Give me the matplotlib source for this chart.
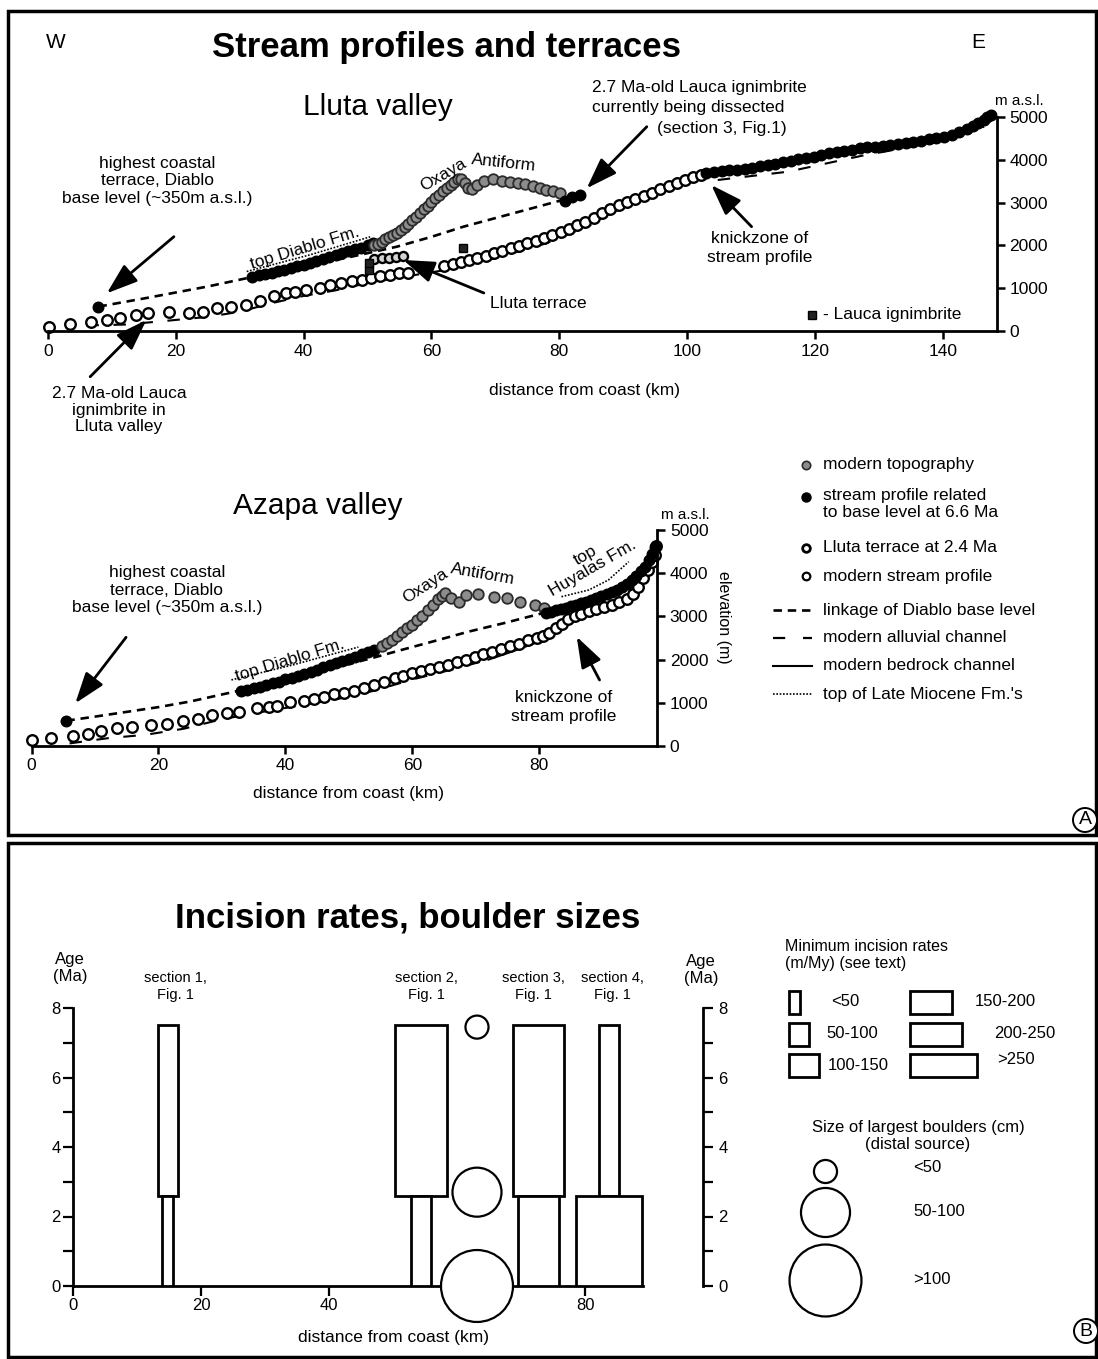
import matplotlib
matplotlib.use("Agg")
import matplotlib.pyplot as plt
from matplotlib.patches import Rectangle
from matplotlib.ticker import MultipleLocator

plt.rcParams["font.family"] = ["Liberation Sans", "DejaVu Sans"]

W, H = 1098, 1359

# ---------------- Lluta valley: distance from coast (km), elevation (m a.s.l.) ----------------
lluta_modern_km = [0.2, 3.4, 6.7, 9.2, 11.2, 13.7, 15.7, 19.0, 22.0, 24.2,
                   26.4, 28.6, 31.0, 33.1, 35.4, 37.3, 38.7, 40.3, 42.5, 44.2,
                   45.8, 47.5, 49.1, 50.5, 51.9, 53.5, 54.9, 56.3,
                   62.0, 63.3, 64.6, 65.9, 67.2, 68.5, 69.8, 71.1, 72.4, 73.7,
                   75.0, 76.3, 77.6, 78.9, 80.2, 81.5, 82.8, 84.1, 85.4, 86.7,
                   88.0, 89.3, 90.6, 91.9, 93.2, 94.5, 95.8, 97.1, 98.4, 99.7,
                   101.0, 102.2]
lluta_modern_m = [100, 160, 220, 255, 310, 375, 415, 450, 420, 450,
                  530, 550, 607, 710, 825, 880, 900, 960, 1010, 1075,
                  1110, 1175, 1190, 1250, 1285, 1310, 1350, 1360,
                  1510, 1555, 1605, 1655, 1705, 1755, 1815, 1875, 1935, 1995,
                  2055, 2110, 2170, 2235, 2310, 2390, 2470, 2550, 2650, 2750,
                  2850, 2935, 3015, 3095, 3165, 3235, 3320, 3390, 3460, 3525,
                  3590, 3650]

# stream profile related to base level at 6.6 Ma
lluta_old_km = [32.0, 33.0, 34.0, 35.0, 36.0, 37.0, 38.0, 39.0, 40.0, 41.0,
                42.0, 43.0, 44.0, 45.0, 46.0, 47.0, 48.0, 49.0, 50.0, 50.9]
lluta_old_m = [1270, 1300, 1330, 1365, 1400, 1435, 1470, 1510, 1550, 1590,
               1635, 1680, 1725, 1770, 1815, 1860, 1905, 1950, 2000, 2050]
lluta_dissected_km = [80.9, 82.0, 83.3]
lluta_dissected_m = [3030, 3130, 3180]
lluta_upper_km = [103.0, 104.2, 105.4, 106.6, 107.8, 109.0, 110.2, 111.4, 112.6, 113.8,
                  115.0, 116.2, 117.4, 118.6, 119.8, 121.0, 122.2, 123.4, 124.6, 125.8,
                  127.0, 128.2, 129.4, 130.6, 131.8, 133.0, 134.2, 135.4, 136.6, 137.8,
                  139.0, 140.2, 141.4, 142.6, 143.8, 144.8, 145.6, 146.4, 147.0, 147.5]
lluta_upper_m = [3690, 3710, 3730, 3750, 3770, 3790, 3820, 3850, 3880, 3910,
                 3950, 3980, 4010, 4040, 4070, 4110, 4150, 4180, 4210, 4240,
                 4270, 4290, 4310, 4330, 4355, 4380, 4400, 4420, 4450, 4475,
                 4500, 4540, 4590, 4650, 4730, 4800, 4870, 4940, 5000, 5050]

# modern topography across the Oxaya Antiform
lluta_topo_km = [51.0, 51.6, 52.2, 52.8, 53.4, 54.0, 54.6, 55.2, 55.8, 56.4,
                 57.0, 57.6, 58.2, 58.8, 59.4, 60.0, 60.6, 61.2, 61.8, 62.4,
                 63.0, 63.6, 64.2, 64.6, 65.2, 65.8, 66.4, 67.2, 68.2, 69.7,
                 71.0, 72.3, 73.5, 74.6, 75.9, 77.0, 78.0, 79.0, 80.1]
lluta_topo_m = [2000, 2040, 2090, 2140, 2190, 2240, 2300, 2370, 2440, 2510,
                2590, 2670, 2750, 2840, 2930, 3010, 3100, 3180, 3260, 3340,
                3410, 3480, 3540, 3560, 3450, 3340, 3320, 3420, 3500, 3540,
                3500, 3470, 3460, 3440, 3380, 3330, 3300, 3260, 3220]

lluta_terrace_km = [51.0, 52.2, 53.4, 54.5, 55.6]
lluta_terrace_m = [1690, 1700, 1715, 1730, 1750]
lluta_lauca_km = [50.2, 50.2, 65.0]
lluta_lauca_m = [1420, 1580, 1950]

lluta_base_km = [7.9]
lluta_base_m = [570]
lluta_link_km = [7.9, 15.0, 20.0, 25.0, 31.6, 40.0, 47.0, 54.6, 60.0, 65.0, 72.8, 80.5]
lluta_link_m = [570, 760, 900, 1040, 1250, 1500, 1720, 1970, 2200, 2437, 2750, 3060]
lluta_diablo_top_km = [31.1, 41.0, 50.4]
lluta_diablo_top_m = [1390, 1780, 2200]

lluta_alluv_low_km = [6.0, 12.0, 18.0, 25.0, 30.0, 35.0, 40.0, 45.0, 50.0, 55.0, 62.0, 70.0, 78.0, 85.0]
lluta_alluv_low_m = [130, 150, 230, 330, 450, 650, 820, 950, 1120, 1250, 1420, 1700, 2050, 2480]
lluta_bedrock_km = [85.0, 90.0, 95.0, 100.0, 103.0]
lluta_bedrock_m = [2530, 2880, 3200, 3470, 3600]
lluta_alluv_up_km = [104.8, 115.8, 127.9, 138.8, 146.5]
lluta_alluv_up_m = [3528, 3722, 4112, 4400, 4773]

# ---------------- Azapa valley ----------------
azapa_modern_km = [0.0, 3.1, 6.5, 8.9, 11.0, 13.4, 15.8, 18.9, 21.3, 23.9,
                   26.3, 28.4, 30.8, 32.7, 35.6, 37.4, 38.7, 40.8, 42.9, 44.5,
                   46.1, 47.7, 49.3, 50.8, 52.4, 54.0, 55.6, 57.2, 58.5, 60.0,
                   61.4, 62.8, 64.2, 65.6, 67.0, 68.4, 69.8, 71.2, 72.6, 74.0,
                   75.4, 76.8, 78.2, 79.6, 80.6, 81.6, 82.6, 83.6, 84.6, 85.6,
                   86.6, 87.8, 89.0, 90.2, 91.4, 92.6, 93.8, 94.8, 95.6, 96.4,
                   97.1, 97.7, 98.2, 98.4]
azapa_modern_m = [150, 180, 230, 280, 350, 410, 430, 490, 500, 585,
                  620, 720, 760, 795, 870, 895, 925, 1025, 1040, 1095,
                  1130, 1200, 1230, 1280, 1340, 1410, 1480, 1565, 1620, 1690,
                  1740, 1780, 1830, 1880, 1940, 2000, 2060, 2120, 2180, 2250,
                  2310, 2370, 2450, 2490, 2540, 2620, 2720, 2830, 2930, 3000,
                  3060, 3120, 3170, 3220, 3270, 3330, 3400, 3520, 3680, 3880,
                  4080, 4250, 4420, 4620]

azapa_old_km = [33.0, 34.0, 35.0, 36.0, 37.0, 38.0, 39.0, 40.0, 41.0, 42.0, 43.0,
                44.0, 45.0, 46.0, 47.0, 48.0, 49.0, 50.0, 51.0, 52.0, 53.0, 54.0]
azapa_old_m = [1265, 1300, 1335, 1375, 1410, 1450, 1490, 1540, 1585, 1630, 1675,
               1720, 1770, 1820, 1870, 1920, 1970, 2020, 2070, 2120, 2180, 2230]
azapa_upper_km = [81.0, 81.8, 82.6, 83.4, 84.2, 85.0, 85.8, 86.6, 87.4, 88.2, 89.0, 89.8,
                  90.6, 91.4, 92.2, 93.0, 93.8, 94.6, 95.3, 96.0, 96.7, 97.3, 97.8, 98.3]
azapa_upper_m = [3070, 3110, 3140, 3170, 3200, 3230, 3265, 3300, 3340, 3380, 3425, 3470,
                 3510, 3560, 3620, 3680, 3750, 3840, 3930, 4040, 4150, 4300, 4450, 4610]
azapa_topo_km = [55.2, 56.0, 56.8, 57.6, 58.4, 59.2, 60.0, 60.8, 61.6, 62.4, 63.2, 64.0,
                 64.6, 65.2, 66.1, 67.4, 68.5, 70.4, 72.8, 74.9, 77.0, 79.4, 80.7]
azapa_topo_m = [2320, 2390, 2460, 2540, 2630, 2720, 2810, 2910, 3020, 3140, 3260, 3400,
                3480, 3540, 3415, 3340, 3495, 3530, 3455, 3415, 3340, 3260, 3185]

azapa_base_km = [5.5]
azapa_base_m = [585]
azapa_link_km = [5.5, 10.0, 15.0, 20.0, 25.0, 32.7, 40.0, 47.0, 54.0, 58.2, 63.5, 68.8, 74.6, 80.4]
azapa_link_m = [585, 680, 790, 900, 1030, 1280, 1520, 1780, 2050, 2220, 2430, 2645, 2850, 3070]
azapa_diablo_top_km = [31.5, 41.0, 51.5]
azapa_diablo_top_m = [1530, 1870, 2290]
azapa_huaylas_top_km = [83.5, 87.8, 90.9, 94.1]
azapa_huaylas_top_m = [3456, 3611, 3843, 4266]

azapa_alluv_low_km = [6.0, 12.0, 18.0, 24.0, 30.0, 36.0, 42.0, 48.0, 54.0, 60.0, 66.0, 72.0]
azapa_alluv_low_m = [60, 180, 260, 400, 620, 780, 930, 1080, 1280, 1540, 1760, 2000]
azapa_bedrock_km = [72.0, 76.0, 80.0, 83.5]
azapa_bedrock_m = [2000, 2200, 2420, 2760]
azapa_alluv_up_km = [84.0, 88.0, 92.0, 95.0, 97.0]
azapa_alluv_up_m = [2850, 3060, 3260, 3500, 4000]

# ---------------- Incision rates and boulder sizes ----------------
rate_classes = ["<50", "50-100", "100-150", "150-200", "200-250", ">250"]
section_labels = ["section 1,\nFig. 1", "section 2,\nFig. 1", "section 3,\nFig. 1", "section 4,\nFig. 1"]
section_km = [14.8, 54.4, 72.7, 83.7]
rate_before_lauca = ["50-100", "200-250", "200-250", "50-100"]
rate_after_lauca = ["<50", "50-100", "150-200", ">250"]
age_oldest = 7.5
age_lauca = 2.6
boulder_classes = ["<50", "50-100", ">100"]
boulder_km = [63.1, 63.1, 63.1]
boulder_age = [7.45, 2.7, 0.0]
boulder_size = ["<50", "50-100", ">100"]

# box width (km) for each rate class and marker diameter (pt) for each boulder class
rate_width = dict(zip(rate_classes, [1.7, 3.1, 4.7, 6.5, 8.1, 10.4]))
boulder_diam = dict(zip(boulder_classes, [16.6, 35.3, 51.8]))

OPEN = dict(marker="o", ls="none", ms=7.6, mfc="white", mec="black", mew=1.7, clip_on=False)
BLACK = dict(marker="o", ls="none", ms=7.6, mfc="black", mec="black", mew=1.0, clip_on=False)
GREY = dict(marker="o", ls="none", ms=7.6, mfc="#8c8c8c", mec="#2b2b2b", mew=1.3, clip_on=False)
TERRACE = dict(marker="o", ls="none", ms=6.5, mfc="#d4d4d4", mec="black", mew=1.7, clip_on=False)
LINK = dict(color="black", lw=1.9, ls=(0, (3.2, 2.2)))
ALLUV = dict(color="black", lw=1.5, ls=(0, (6, 7)))
BED = dict(color="black", lw=1.5, ls="-")
TOPFM = dict(color="black", lw=1.2, ls=(0, (1, 1)))
FS = 12.5


fig = plt.figure(figsize=(W / 100, H / 100), dpi=100)

# overlay in pixel units: frames, titles, keys
ov = fig.add_axes([0, 0, 1, 1])
ov.set_xlim(0, W)
ov.set_ylim(H, 0)
ov.axis("off")


def axes_px(left, top, right, bottom):
    ax = fig.add_axes([left / W, 1 - bottom / H, (right - left) / W, (bottom - top) / H])
    ax.patch.set_visible(False)
    return ax


def arrow(ax, tail, head):
    ax.annotate("", xy=head, xytext=tail, annotation_clip=False,
                arrowprops=dict(arrowstyle="-|>,head_length=0.95,head_width=0.33",
                                lw=2, color="black", mutation_scale=20,
                                shrinkA=0, shrinkB=0))


def profile_axes(ax, xmax, xticks):
    ax.set_xlim(0, xmax)
    ax.set_ylim(0, 5000)
    ax.spines["left"].set_visible(False)
    ax.spines["top"].set_visible(False)
    ax.spines["bottom"].set_linewidth(2)
    ax.spines["right"].set_linewidth(2)
    ax.yaxis.tick_right()
    ax.set_yticks(range(0, 5001, 1000))
    ax.set_xticks(xticks)
    ax.tick_params(direction="out", length=6, width=1.8, labelsize=12.5, pad=3)


# panel frames
ov.add_patch(Rectangle((8, 11), 1088, 824, fill=False, lw=2.5, ec="black"))
ov.add_patch(Rectangle((8, 843), 1088, 514, fill=False, lw=2.5, ec="black"))

ov.text(56, 42, "W", fontsize=15, ha="center", va="center")
ov.text(978, 42, "E", fontsize=15, ha="center", va="center")
ov.text(446, 48, "Stream profiles and terraces", fontsize=25, fontweight="bold",
        ha="center", va="center")
ov.text(408, 918, "Incision rates, boulder sizes", fontsize=25, fontweight="bold",
        ha="center", va="center")
for lx, ly, letter in [(1085, 820, "A"), (1086, 1331, "B")]:
    ov.text(lx, ly, letter, fontsize=14, ha="center", va="center",
            bbox=dict(boxstyle="circle,pad=0.18", fc="white", ec="black", lw=1.4))

# ---------------- Lluta valley ----------------
ax1 = axes_px(48, 117, 997, 331)
profile_axes(ax1, 148.5, range(0, 141, 20))
ax1.plot(lluta_alluv_low_km, lluta_alluv_low_m, **ALLUV)
ax1.plot(lluta_bedrock_km, lluta_bedrock_m, **BED)
ax1.plot(lluta_alluv_up_km, lluta_alluv_up_m, **ALLUV)
ax1.plot(lluta_link_km, lluta_link_m, **LINK)
ax1.plot(lluta_diablo_top_km, lluta_diablo_top_m, **TOPFM)
ax1.plot(lluta_modern_km, lluta_modern_m, **OPEN)
ax1.plot(lluta_terrace_km, lluta_terrace_m, **TERRACE)
ax1.plot(lluta_old_km, lluta_old_m, **BLACK)
ax1.plot(lluta_topo_km, lluta_topo_m, **GREY)
ax1.plot(lluta_dissected_km, lluta_dissected_m, **BLACK)
ax1.plot(lluta_upper_km, lluta_upper_m, **BLACK)
ax1.plot(lluta_base_km, lluta_base_m, **BLACK)
ax1.plot(lluta_lauca_km, lluta_lauca_m, marker="s", ls="none", ms=5.5, mfc="#222222",
         mec="black", clip_on=False)

ax1.text(51.6, 5234, "Lluta valley", fontsize=21.5, ha="center", va="center")
ax1.text(152.0, 5374, "m a.s.l.", fontsize=11, ha="center", va="center")
ax1.text(17.1, 3505, "highest coastal\nterrace, Diablo\nbase level (~350m a.s.l.)",
         fontsize=FS, ha="center", va="center", linespacing=1.2)
arrow(ax1, (19.7, 2203), (9.2, 881))
ax1.text(11.1, -1846, "2.7 Ma-old Lauca\nignimbrite in\nLluta valley",
         fontsize=FS, ha="center", va="center", linespacing=1.15)
arrow(ax1, (6.6, -1068), (15.4, 257))
ax1.text(85.1, 5455, "2.7 Ma-old Lauca ignimbrite\ncurrently being dissected",
         fontsize=FS, ha="left", va="center", linespacing=1.35)
ax1.text(115.6, 4720, "(section 3, Fig.1)", fontsize=FS, ha="right", va="center")
arrow(ax1, (93.7, 4773), (84.3, 3334))
ax1.text(111.4, 1940, "knickzone of\nstream profile", fontsize=FS, ha="center",
         va="center", linespacing=1.3)
arrow(ax1, (110.1, 2437), (103.8, 3411))
ax1.text(76.8, 631, "Lluta terrace", fontsize=FS, ha="center", va="center")
arrow(ax1, (68.2, 888), (55.6, 1659))
ax1.text(40.2, 1930, "top Diablo Fm.", fontsize=FS, ha="center", va="center",
         rotation=17, rotation_mode="anchor")
ax1.text(61.9, 3640, "Oxaya", fontsize=FS, ha="center", va="center", rotation=30,
         rotation_mode="anchor")
ax1.text(71.3, 3918, "Antiform", fontsize=FS, ha="center", va="center", rotation=-6,
         rotation_mode="anchor")
ax1.plot([119.5], [374], marker="s", ls="none", ms=5.5, mfc="#222222", mec="black")
ax1.text(121.2, 374, "- Lauca ignimbrite", fontsize=FS, ha="left", va="center")
ax1.text(84.0, -1379, "distance from coast (km)", fontsize=FS, ha="center", va="center")

# ---------------- Azapa valley ----------------
ax2 = axes_px(31.5, 530, 657.3, 746)
profile_axes(ax2, 98.6, range(0, 81, 20))
ax2.plot(azapa_alluv_low_km, azapa_alluv_low_m, **ALLUV)
ax2.plot(azapa_bedrock_km, azapa_bedrock_m, **BED)
ax2.plot(azapa_alluv_up_km, azapa_alluv_up_m, **ALLUV)
ax2.plot(azapa_link_km, azapa_link_m, **LINK)
ax2.plot(azapa_diablo_top_km, azapa_diablo_top_m, **TOPFM)
ax2.plot(azapa_huaylas_top_km, azapa_huaylas_top_m, **TOPFM)
ax2.plot(azapa_modern_km, azapa_modern_m, **OPEN)
ax2.plot(azapa_old_km, azapa_old_m, **BLACK)
ax2.plot(azapa_topo_km, azapa_topo_m, **GREY)
ax2.plot(azapa_upper_km, azapa_upper_m, **BLACK)
ax2.plot(azapa_base_km, azapa_base_m, **BLACK)

ax2.text(45.1, 5556, "Azapa valley", fontsize=21.5, ha="center", va="center")
ax2.text(103.0, 5347, "m a.s.l.", fontsize=11, ha="center", va="center")
ax2.text(109.0, 2986, "elevation (m)", fontsize=11.5, ha="center", va="center",
         rotation=270)
ax2.text(21.3, 3611, "highest coastal\nterrace, Diablo\nbase level (~350m a.s.l.)",
         fontsize=FS, ha="center", va="center", linespacing=1.2)
arrow(ax2, (14.9, 2516), (6.9, 988))
ax2.text(40.7, 1990, "top Diablo Fm.", fontsize=FS, ha="center", va="center",
         rotation=17, rotation_mode="anchor")
ax2.text(62.0, 3704, "Oxaya", fontsize=FS, ha="center", va="center", rotation=33,
         rotation_mode="anchor")
ax2.text(71.1, 3981, "Antiform", fontsize=FS, ha="center", va="center", rotation=-10,
         rotation_mode="anchor")
ax2.text(87.8, 4271, "top\nHuyalas Fm.", fontsize=FS, ha="center", va="center",
         rotation=30, rotation_mode="anchor", linespacing=0.95)
ax2.text(83.9, 903, "knickzone of\nstream profile", fontsize=FS, ha="center",
         va="center", linespacing=1.3)
arrow(ax2, (89.5, 1528), (85.9, 2530))
ax2.text(50.0, -1090, "distance from coast (km)", fontsize=FS, ha="center", va="center")

# key for the profile panels
key_x, text_x = 806, 823
ov.plot([key_x], [465], marker="o", ms=6, mfc="#8c8c8c", mec="#2b2b2b", mew=1.2)
ov.plot([key_x], [497], marker="o", ms=6.5, mfc="black", mec="black")
ov.plot([key_x], [548], marker="o", ms=5.5, mfc="white", mec="black", mew=2)
ov.plot([key_x], [576], marker="o", ms=5.5, mfc="white", mec="black", mew=1.6)
ov.plot([773, 812], [610, 610], **LINK)
ov.plot([773, 812], [638, 638], color="black", lw=1.6, ls=(0, (5.5, 8)))
ov.plot([773, 812], [666, 666], **BED)
ov.plot([773, 812], [694, 694], **TOPFM)
key_texts = [(465, "modern topography"),
             (504, "stream profile related\nto base level at 6.6 Ma"),
             (548, "Lluta terrace at 2.4 Ma"),
             (576, "modern stream profile"),
             (610, "linkage of Diablo base level"),
             (638, "modern alluvial channel"),
             (666, "modern bedrock channel"),
             (694, "top of Late Miocene Fm.'s")]
for ky, kt in key_texts:
    ov.text(text_x, ky, kt, fontsize=FS, ha="left", va="center", linespacing=1.2)

# ---------------- incision rates / boulder sizes ----------------
ax3 = axes_px(73, 1008, 703, 1286)
ax3.set_xlim(0, 98.4)
ax3.set_ylim(0, 8)
ax3.bar(section_km, [age_oldest - age_lauca] * len(section_km),
        width=[rate_width[r] for r in rate_before_lauca], bottom=age_lauca,
        facecolor="white", edgecolor="black", lw=2, zorder=3)
ax3.bar(section_km, [age_lauca] * len(section_km),
        width=[rate_width[r] for r in rate_after_lauca], bottom=0,
        facecolor="white", edgecolor="black", lw=2, zorder=3)
ax3.scatter(boulder_km, boulder_age, s=[boulder_diam[b] ** 2 for b in boulder_size],
            facecolor="white", edgecolor="black", lw=1.6, zorder=6, clip_on=False)
for sx, lab in zip([16.0, 55.2, 71.9, 84.3], section_labels):
    ax3.text(sx, 8.62, lab, fontsize=10.5, ha="center", va="center", linespacing=1.2)

ax3.spines["top"].set_visible(False)
ax3.spines["right"].set_visible(False)
ax3.spines["left"].set_linewidth(2)
ax3.spines["bottom"].set_linewidth(2)
ax3.spines["bottom"].set_bounds(0, 89)
ax3.set_xticks([0, 20, 40, 60, 80])
ax3.set_yticks([0, 2, 4, 6, 8])
ax3.yaxis.set_minor_locator(MultipleLocator(1))
ax3.tick_params(which="both", direction="out", length=7, width=1.6, labelsize=12, pad=2)

ax3r = ax3.twinx()
ax3r.set_ylim(0, 8)
for s in ("left", "top", "bottom"):
    ax3r.spines[s].set_visible(False)
ax3r.spines["right"].set_linewidth(2)
ax3r.set_yticks([0, 2, 4, 6, 8])
ax3r.yaxis.set_minor_locator(MultipleLocator(1))
ax3r.tick_params(which="both", direction="out", length=7, width=1.6, labelsize=12, pad=4)

ax3.text(-0.5, 9.15, "Age\n(Ma)", fontsize=12, ha="center", va="center", linespacing=1.15)
ax3.text(98.1, 9.1, "Age\n(Ma)", fontsize=12, ha="center", va="center", linespacing=1.2)
ax3.text(50.0, -1.47, "distance from coast (km)", fontsize=FS, ha="center", va="center")

# key: incision-rate boxes drawn at the same km-to-pixel scale as the panel
px_per_km = (703 - 73) / 98.4
ov.text(785, 955, "Minimum incision rates\n(m/My) (see text)", fontsize=11.5,
        ha="left", va="center", linespacing=1.2)
box_cols = [(789, [(991, 831), (1023, 826), (1054, 828)]),
            (910, [(991, 975), (1023, 994), (1054, 997)])]
for i, rc in enumerate(rate_classes):
    col_x, rows = box_cols[i // 3]
    ry, tx = rows[i % 3]
    ov.add_patch(Rectangle((col_x, ry), rate_width[rc] * px_per_km, 23, fill=False,
                           lw=2, ec="black"))
    ty = ry + 11 if rc != ">250" else ry + 6
    ov.text(tx, ty, rc, fontsize=12, ha="left", va="center")

ov.text(918, 1136, "Size of largest boulders (cm)\n(distal source)", fontsize=12,
        ha="center", va="center", linespacing=1.2)
for by, bc in zip([1171, 1212, 1280], boulder_classes):
    ov.scatter([825], [by], s=boulder_diam[bc] ** 2, facecolor="white",
               edgecolor="black", lw=1.6)
    ov.text(913, by - 3 if bc == "<50" else by, bc, fontsize=12, ha="left", va="center")

fig.savefig("out.png", dpi=100)
